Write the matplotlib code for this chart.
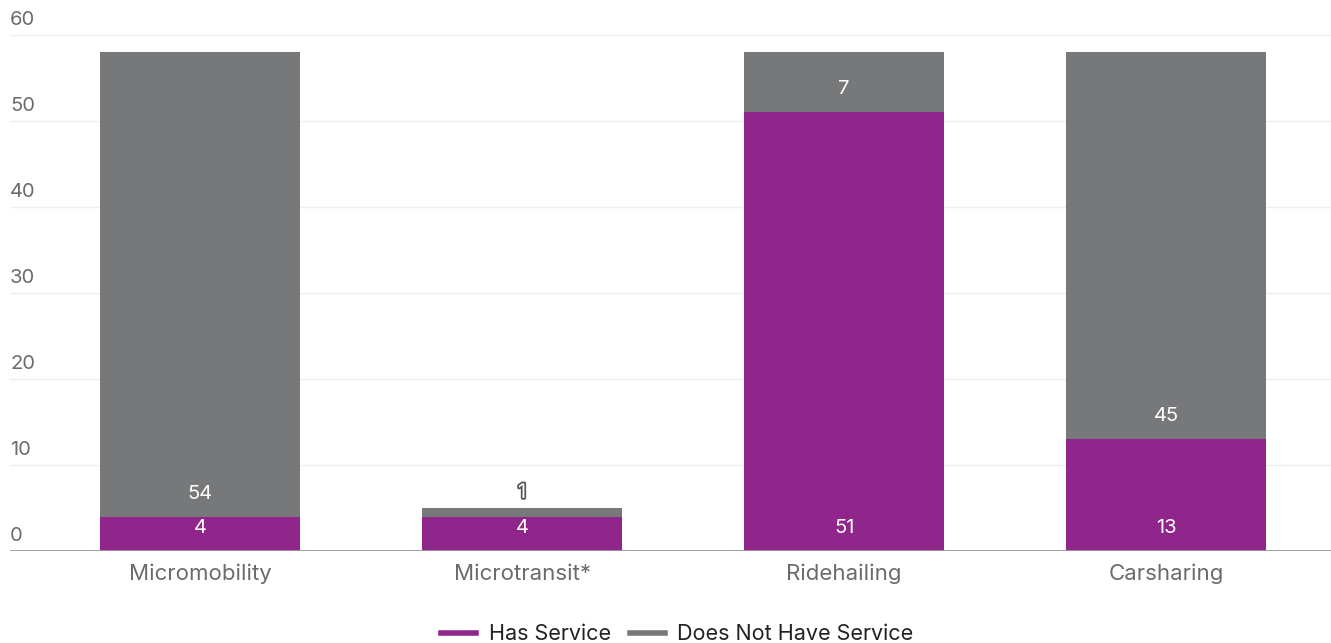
import matplotlib
matplotlib.use("Agg")
import matplotlib.pyplot as plt
import matplotlib.patheffects as pe
from matplotlib.lines import Line2D
import numpy as np

# Service availability by mode
categories = ["Micromobility", "Microtransit*", "Ridehailing", "Carsharing"]
has_service = [4, 4, 51, 13]
no_service = [54, 1, 7, 45]
y_ticks = [0, 10, 20, 30, 40, 50, 60]

purple = "#90258c"
grey = "#77787a"
txt = "#6b6b6b"

plt.rcParams["font.family"] = ["Inter", "DejaVu Sans"]

W, H = 1331, 643
fig = plt.figure(figsize=(W / 100, H / 100), dpi=100)
ax = fig.add_axes([10 / W, (H - 551) / H, (W - 10) / W, (551 - 35) / H])

x = np.arange(len(categories))
width = 0.621
ax.bar(x, has_service, width, color=purple, zorder=3)
ax.bar(x, no_service, width, bottom=has_service, color=grey, zorder=3)

ax.set_xlim(-0.59, 3.512)
ax.set_ylim(0, 60)

# light grid, y labels sitting above each line
for t in y_ticks[1:]:
    ax.axhline(t, color="#efefef", lw=1, zorder=1)
for t in y_ticks:
    ax.annotate(str(t), (0, t), xycoords=("axes fraction", "data"),
                xytext=(0, 6), textcoords="offset pixels", ha="left", va="bottom",
                fontsize=14.5, color=txt)
ax.axhline(0, color="#9a9a9a", lw=2, zorder=4)

# value labels
for i in x:
    ax.annotate(str(has_service[i]), (i, 0), xytext=(0, 23), textcoords="offset pixels",
                ha="center", va="center", fontsize=14.5, color="white", zorder=5)
    top = has_service[i] + no_service[i]
    if no_service[i] >= 3:
        ax.annotate(str(no_service[i]), (i, has_service[i]), xytext=(0, 23),
                    textcoords="offset pixels", ha="center", va="center",
                    fontsize=14.5, color="white", zorder=5)
    else:
        ax.annotate(str(no_service[i]), (i, top), xytext=(0, 15),
                    textcoords="offset pixels", ha="center", va="center",
                    fontsize=14.5, color="white", zorder=5,
                    path_effects=[pe.withStroke(linewidth=2.5, foreground="#555555")])

ax.set_xticks(x)
ax.set_xticklabels(categories, fontsize=16, color=txt)
ax.tick_params(axis="x", length=0, pad=9)
ax.set_yticks([])
for s in ax.spines.values():
    s.set_visible(False)

handles = [Line2D([], [], color=purple, lw=4), Line2D([], [], color=grey, lw=4)]
fig.legend(handles, ["Has Service", "Does Not Have Service"], loc="lower center",
           bbox_to_anchor=(0.509, -0.032), ncol=2, frameon=False, fontsize=15.5,
           handlelength=1.6, columnspacing=0.9, handletextpad=0.6, labelcolor="#222222")

fig.savefig("out.png", dpi=100)
